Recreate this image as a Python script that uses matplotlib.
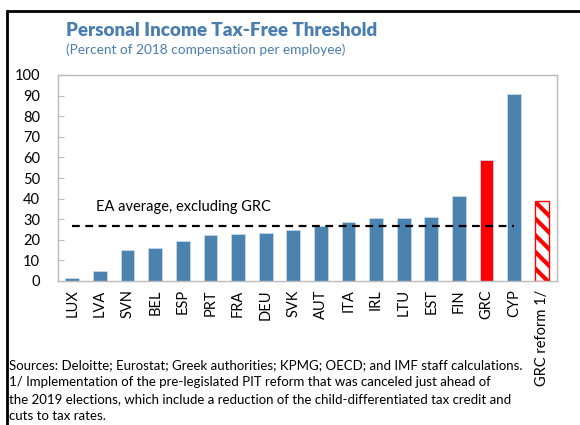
import numpy as np
import matplotlib.pyplot as plt
from matplotlib.patches import Rectangle

plt.rcParams['font.family'] = ['Lato', 'DejaVu Sans']
plt.rcParams['hatch.linewidth'] = 3.0

countries = ['LUX', 'LVA', 'SVN', 'BEL', 'ESP', 'PRT', 'FRA', 'DEU', 'SVK',
             'AUT', 'ITA', 'IRL', 'LTU', 'EST', 'FIN', 'GRC', 'CYP']
values = [1.6, 4.7, 15.0, 15.9, 19.6, 22.3, 23.0, 23.2, 25.0,
          26.7, 28.6, 30.7, 30.7, 31.1, 41.3, 58.7, 90.8]
reform_label = 'GRC reform 1/'
reform_value = 38.8
ea_average = 26.8

blue = '#4A82B0'
red = '#FF0000'
title_col = '#4A7EB0'

fig = plt.figure(figsize=(5.8, 4.25), dpi=100)
ax = fig.add_axes([58/580, 1-281/425, 499/580, 206/425])

x = np.arange(len(countries))
colors = [red if c == 'GRC' else blue for c in countries]
ax.bar(x, values, width=0.5, color=colors, edgecolor='#c9d9e8', linewidth=0.6)
ax.bar(len(countries), reform_value, width=0.5, color='white', edgecolor=red,
       hatch='\\\\', linewidth=1.0)

ax.plot([x[0], x[-1]], [ea_average, ea_average], ls=(0, (3.5, 2.5)),
        color='black', lw=1.6)
ax.text(0.85, 36, 'EA average, excluding GRC', fontsize=10.5, va='center')

ax.set_xlim(-0.52, 17.55)
ax.set_ylim(0, 100)
ax.set_yticks(range(0, 101, 10))
ax.set_xticks(list(x) + [len(countries)])
ax.set_xticklabels(countries + [reform_label], rotation=90, fontsize=10.5)
ax.tick_params(axis='y', direction='in', length=4, color='#bbbbbb',
               labelsize=10.5, pad=13)
ax.tick_params(axis='x', length=0, pad=6)
for lab in ax.get_yticklabels():
    lab.set_horizontalalignment('right')
for s in ax.spines.values():
    s.set_color('#bbbbbb')
    s.set_linewidth(1.0)

fig.text(66/580, 1-30/425, 'Personal Income Tax-Free Threshold', fontsize=13.5,
         fontweight='heavy', color=title_col, va='center')
fig.text(66/580, 1-50/425, '(Percent of 2018 compensation per employee)',
         fontsize=9.8, color=title_col, va='center')

note = ('Sources: Deloitte; Eurostat; Greek authorities; KPMG; OECD; and IMF staff calculations.\n'
        '1/ Implementation of the pre-legislated PIT reform that was canceled just ahead of\n'
        'the 2019 elections, which include a reduction of the child-differentiated tax credit and\n'
        'cuts to tax rates.')
fig.text(9/580, 1-359/425, note, fontsize=9.5, va='top', linespacing=1.5)

fig.patches.append(Rectangle((7/580, -0.1), 1.2, 1-11/425+0.1,
                             transform=fig.transFigure, fill=False,
                             edgecolor='black', linewidth=2))

fig.savefig('out.png', dpi=100)
